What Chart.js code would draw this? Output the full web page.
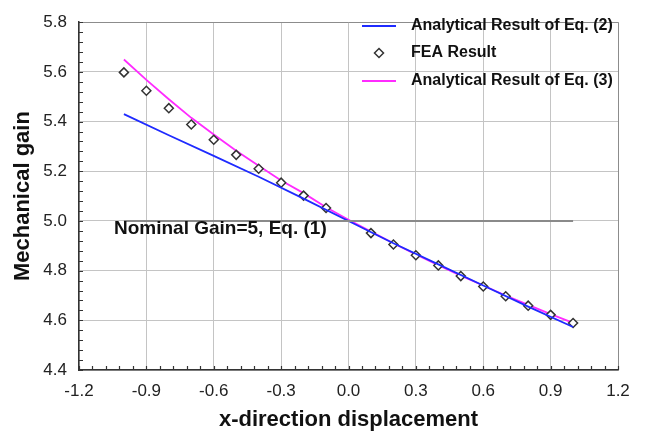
<!DOCTYPE html>
<html>
<head>
<meta charset="utf-8">
<script src="https://cdn.jsdelivr.net/npm/chart.js@4"></script>
<style>
  body { margin: 0; background: #fff; }
</style>
</head>
<body>
<canvas id="gain" width="647" height="435"></canvas>
<script>
// values
const feaX = [-1.0, -0.9, -0.8, -0.7, -0.6, -0.5, -0.4, -0.3, -0.2, -0.1, 0.1, 0.2, 0.3, 0.4, 0.5, 0.6, 0.7, 0.8, 0.9, 1.0];
const feaGain = [5.598, 5.524, 5.454, 5.388, 5.327, 5.266, 5.210, 5.154, 5.102, 5.052, 4.951, 4.905, 4.862, 4.821, 4.778, 4.736, 4.697, 4.659, 4.622, 4.589];

const eq2X = [-1.0, -0.8, -0.6, -0.4, -0.2, 0.0, 0.2, 0.4, 0.6, 0.8, 1.0];
const eq2Gain = [5.43, 5.345, 5.262, 5.178, 5.09, 5.0, 4.91, 4.825, 4.74, 4.655, 4.573];

const eq3X = [-1.0, -0.9, -0.8, -0.7, -0.6, -0.5, -0.4, -0.3, -0.2, -0.1, 0.0, 0.1, 0.2, 0.3, 0.4, 0.5, 0.6, 0.7, 0.8, 0.9, 1.0];
const eq3Gain = [5.65, 5.568, 5.49, 5.415, 5.348, 5.283, 5.222, 5.163, 5.112, 5.055, 5.005, 4.957, 4.91, 4.865, 4.822, 4.78, 4.74, 4.70, 4.662, 4.625, 4.59];

const nominalX = [-1.0, 1.0];
const nominalGain = [5.0, 5.0];

const xLimits = [-1.2, 1.2];
const yLimits = [4.4, 5.8];

const FONT = "Arial, 'Liberation Sans', sans-serif";

function pts(xs, ys) {
    return xs.map((x, i) => ({ x: x, y: ys[i] }));
}

function fmt(v) {
    return Math.abs(v) < 1e-9 ? '0.0' : v.toFixed(1);
}

// inward minor ticks, legend and the nominal label
const decorations = {
    id: 'decorations',
    afterDraw(chart) {
        const ctx = chart.ctx;
        const xs = chart.scales.x, ys = chart.scales.y;
        const area = chart.chartArea;
        ctx.save();
        ctx.strokeStyle = '#333';
        ctx.lineWidth = 1.2;
        ctx.beginPath();
        for (let i = 0; i <= 40; i++) {
            const px = Math.round(xs.getPixelForValue(xLimits[0] + i * 0.06)) + 0.5;
            ctx.moveTo(px, area.bottom);
            ctx.lineTo(px, area.bottom - 4);
        }
        for (let i = 0; i <= 35; i++) {
            const py = Math.round(ys.getPixelForValue(yLimits[0] + i * 0.04)) + 0.5;
            ctx.moveTo(area.left, py);
            ctx.lineTo(area.left + 4, py);
        }
        ctx.stroke();

        // legend, in the order of the original figure
        const sets = chart.data.datasets;
        const rows = [26, 53, 81];
        ctx.font = 'bold 16px ' + FONT;
        ctx.textBaseline = 'middle';
        [1, 2, 3].forEach((di, r) => {
            const ds = sets[di];
            const y = rows[r];
            if (ds.showLine === false) {
                ctx.beginPath();
                ctx.moveTo(379, y - 4.5);
                ctx.lineTo(383.5, y);
                ctx.lineTo(379, y + 4.5);
                ctx.lineTo(374.5, y);
                ctx.closePath();
                ctx.fillStyle = '#fff';
                ctx.fill();
                ctx.strokeStyle = ds.pointBorderColor;
                ctx.lineWidth = 1.5;
                ctx.stroke();
            } else {
                ctx.beginPath();
                ctx.moveTo(362, y);
                ctx.lineTo(396, y);
                ctx.strokeStyle = ds.borderColor;
                ctx.lineWidth = 1.8;
                ctx.stroke();
            }
            ctx.fillStyle = '#111';
            ctx.fillText(ds.label, 411, y);
        });

        ctx.font = 'bold 19px ' + FONT;
        ctx.fillText('Nominal Gain=5, Eq. (1)', 114, 229);
        ctx.restore();
    }
};

new Chart(document.getElementById('gain'), {
    type: 'scatter',
    data: {
        datasets: [{
            label: 'Nominal',
            data: pts(nominalX, nominalGain),
            showLine: true,
            borderColor: '#8a8a8a',
            borderWidth: 2,
            pointRadius: 0,
        }, {
            label: 'Analytical Result of Eq. (2)',
            data: pts(eq2X, eq2Gain),
            showLine: true,
            borderColor: '#1f2bff',
            borderWidth: 1.8,
            pointRadius: 0,
        }, {
            label: 'FEA Result',
            data: pts(feaX, feaGain),
            showLine: false,
            pointStyle: 'rectRot',
            pointRadius: 4.5,
            pointBorderWidth: 1.5,
            pointBorderColor: '#333',
            pointBackgroundColor: '#fff',
        }, {
            label: 'Analytical Result of Eq. (3)',
            data: pts(eq3X, eq3Gain),
            showLine: true,
            borderColor: '#ff2bff',
            borderWidth: 1.8,
            pointRadius: 0,
        }]
    },
    options: {
        responsive: false,
        devicePixelRatio: 1,
        animation: false,
        layout: { padding: { top: 12, right: 29, left: 0, bottom: 0 } },
        plugins: {
            legend: { display: false },
            tooltip: { enabled: false },
        },
        scales: {
            x: {
                type: 'linear',
                min: xLimits[0],
                max: xLimits[1],
                afterFit: s => { s.height = 65; },
                ticks: {
                    stepSize: 0.3,
                    padding: 11,
                    color: '#222',
                    font: { family: FONT, size: 17 },
                    callback: v => fmt(v),
                },
                grid: {
                    drawTicks: false,
                    color: c => (c.tick && Math.abs(c.tick.value - xLimits[1]) < 1e-9) ? '#8c8c8c' : '#c4c4c4',
                    lineWidth: 1,
                },
                border: { color: '#333', width: 1.5 },
                title: {
                    display: true,
                    text: 'x-direction displacement',
                    color: '#111',
                    font: { family: FONT, size: 22, weight: 'bold' },
                    padding: { top: 0, bottom: 2 },
                },
            },
            y: {
                min: yLimits[0],
                max: yLimits[1],
                afterFit: s => { s.width = 79; },
                ticks: {
                    stepSize: 0.2,
                    padding: 12,
                    color: '#222',
                    font: { family: FONT, size: 17 },
                    callback: v => fmt(v),
                },
                grid: {
                    drawTicks: false,
                    color: c => (c.tick && Math.abs(c.tick.value - yLimits[1]) < 1e-9) ? '#8c8c8c' : '#c4c4c4',
                    lineWidth: 1,
                },
                border: { color: '#333', width: 1.5 },
                title: {
                    display: true,
                    text: 'Mechanical gain',
                    color: '#111',
                    font: { family: FONT, size: 22, weight: 'bold' },
                    padding: { top: 10, bottom: 0 },
                },
            },
        },
    },
    plugins: [decorations],
});
</script>
</body>
</html>
